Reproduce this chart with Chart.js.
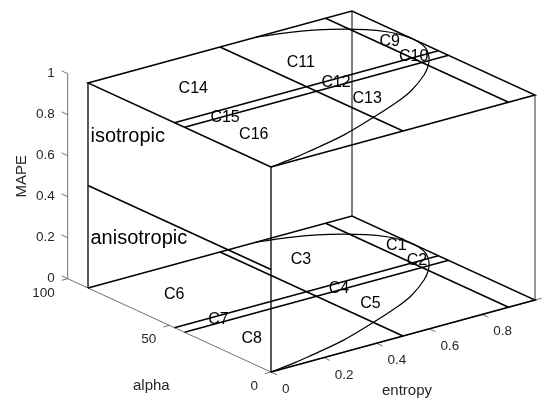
<!DOCTYPE html>
<html>
<head>
<meta charset="utf-8">
<script src="https://cdn.jsdelivr.net/npm/chart.js@4.4.1/dist/chart.umd.min.js"></script>
<style>
html,body{margin:0;padding:0;background:#ffffff;}
#wrap{width:545px;height:398px;position:relative;}
</style>
</head>
<body>
<div id="wrap"><canvas id="c"></canvas></div>
<script>
// ------------------------- DATA -------------------------
const entropyRange = [0, 1];
const alphaRange = [0, 90];
const entropyZoneBounds = [0.5, 0.9];
const alphaZoneBounds = [42.5, 47.5];
const planeMAPE = [0, 1];          // anisotropic plane, isotropic plane
const splitMAPE = 0.5;             // isotropic / anisotropic split on the side face

// feasibility boundary of the entropy / alpha plane
const curveEntropy = [0, 0.10, 0.17, 0.34, 0.51, 0.64, 0.73, 0.84, 0.905, 0.945, 0.97, 0.985, 0.995, 1.0, 0.995, 0.978, 0.936, 0.851, 0.775, 0.706, 0.631];
const curveAlpha   = [0, 1.8, 3.5, 8.2, 15, 20.8, 25.7, 33.8, 40, 45, 49, 52, 55.4, 60, 64.3, 69.2, 75, 81.8, 85.7, 88.2, 90];

const lowerLabels = ['C1', 'C2', 'C3', 'C4', 'C5', 'C6', 'C7', 'C8'];
const lowerLabelEntropy = [0.96, 0.93, 0.66, 0.60, 0.60, 0.18, 0.155, 0.135];
const lowerLabelAlpha   = [63, 49, 71, 44.5, 29, 71, 46, 27];

const upperLabels = ['C9', 'C10', 'C11', 'C12', 'C13', 'C14', 'C15', 'C16'];
const upperLabelEntropy = [0.94, 0.92, 0.62, 0.60, 0.59, 0.23, 0.155, 0.135];
const upperLabelAlpha   = [63.7, 49.3, 65.8, 45.9, 29.3, 68.1, 42.7, 26];

const faceLabels = ['isotropic', 'anisotropic'];
const faceLabelMAPE = [0.75, 0.25];

const entropyTicks = [0, 0.2, 0.4, 0.6, 0.8];
const entropyTickLabels = ['0', '0.2', '0.4', '0.6', '0.8'];
const alphaTicks = [0, 50, 100];
const alphaTickLabels = ['0', '50', '100'];
const mapeTicks = [0, 0.2, 0.4, 0.6, 0.8, 1];
const mapeTickLabels = ['0', '0.2', '0.4', '0.6', '0.8', '1'];
const entropyAxisMax = 1.025;
const alphaAxisMax = 100;
const mapeAxisMax = 1;

// ------------------------- VIEW (orthographic projection) -------------------------
const VIEW = {
  origin: [271, 372],
  entropy: [264, -72],          // per unit entropy
  alpha: [-183 / 90, -84 / 90], // per degree alpha
  mape: [0, -205]               // per unit MAPE
};
function proj(h, a, z) {
  return {
    x: VIEW.origin[0] + h * VIEW.entropy[0] + a * VIEW.alpha[0] + z * VIEW.mape[0],
    y: VIEW.origin[1] + h * VIEW.entropy[1] + a * VIEW.alpha[1] + z * VIEW.mape[1]
  };
}

const datasets = [];
function poly(pts, color, width, tension) {
  datasets.push({
    data: pts.map(p => proj(p[0], p[1], p[2])),
    showLine: true,
    borderColor: color,
    borderWidth: width,
    pointRadius: 0,
    tension: tension || 0,
    fill: false
  });
}
const BLACK = '#000000';
const AXIS = '#4d4d4d';
const [h0, h1] = entropyRange;
const [a0, a1] = alphaRange;

// planes
planeMAPE.forEach((z, i) => {
  if (i === 0) {
    poly([[h0, a0, z], [h1, a0, z], [h1, a1, z], [h0, a1, z]], BLACK, 1.5);
  } else {
    poly([[h0, a0, z], [h1, a0, z], [h1, a1, z], [h0, a1, z], [h0, a0, z]], BLACK, 1.5);
  }
  entropyZoneBounds.forEach(h => poly([[h, a0, z], [h, a1, z]], BLACK, 1.5));
  alphaZoneBounds.forEach(a => poly([[h0, a, z], [h1, a, z]], BLACK, 1.5));
  poly(curveEntropy.map((h, k) => [h, curveAlpha[k], z]), BLACK, 1.2, 0.35);
});
// side face and verticals
poly([[h0, a1, planeMAPE[0]], [h0, a1, planeMAPE[1]]], BLACK, 1.3);
poly([[h0, a0, planeMAPE[0]], [h0, a0, planeMAPE[1]]], BLACK, 1.3);
poly([[h0, a1, splitMAPE], [h0, a0, splitMAPE]], BLACK, 1.5);
poly([[h1, a1, planeMAPE[0]], [h1, a1, planeMAPE[1]]], BLACK, 1);
poly([[h1, a0, planeMAPE[0]], [h1, a0, planeMAPE[1]]], '#333333', 1);

// axes
poly([[0, alphaAxisMax, 0], [0, alphaAxisMax, mapeAxisMax]], AXIS, 0.8);
poly([[0, 0, 0], [0, alphaAxisMax, 0]], AXIS, 0.8);
poly([[0, 0, 0], [entropyAxisMax, 0, 0]], AXIS, 0.8);
mapeTicks.forEach(t => poly([[0, alphaAxisMax, t], [0, alphaAxisMax + 3, t]], AXIS, 0.8));
alphaTicks.forEach(t => poly([[0, t, 0], [-0.023, t, 0]], AXIS, 0.8));
entropyTicks.forEach(t => poly([[t, 0, 0], [t, -3, 0]], AXIS, 0.8));

// ------------------------- TEXT PLUGIN -------------------------
const FONT = "'Liberation Sans', Arial, Helvetica, sans-serif";
const textPlugin = {
  id: 'text3d',
  afterDatasetsDraw(chart) {
    const ctx = chart.ctx;
    const sx = chart.scales.x, sy = chart.scales.y;
    const P = (h, a, z) => { const p = proj(h, a, z); return [sx.getPixelForValue(p.x), sy.getPixelForValue(p.y)]; };
    ctx.save();
    ctx.textBaseline = 'alphabetic';
    // zone labels
    ctx.fillStyle = '#000000';
    ctx.font = '16px ' + FONT;
    ctx.textAlign = 'center';
    lowerLabels.forEach((t, i) => {
      const [x, y] = P(lowerLabelEntropy[i], lowerLabelAlpha[i], planeMAPE[0]);
      ctx.fillText(t, x, y + 5.8);
    });
    upperLabels.forEach((t, i) => {
      const [x, y] = P(upperLabelEntropy[i], upperLabelAlpha[i], planeMAPE[1]);
      ctx.fillText(t, x, y + 5.8);
    });
    // face labels
    ctx.font = '20px ' + FONT;
    ctx.textAlign = 'left';
    faceLabels.forEach((t, i) => {
      const [x, y] = P(0, a1, faceLabelMAPE[i]);
      ctx.fillText(t, x + 2.5, y + 7.7);
    });
    // tick labels
    ctx.fillStyle = '#262626';
    ctx.font = '13.5px ' + FONT;
    ctx.textAlign = 'right';
    mapeTicks.forEach((t, i) => {
      const [x, y] = P(0, alphaAxisMax, t);
      ctx.fillText(mapeTickLabels[i], x - 13, y - 2 + 4.9);
    });
    alphaTicks.forEach((t, i) => {
      const [x, y] = P(0, t, 0);
      ctx.fillText(alphaTickLabels[i], x - 13, y + 13 + 4.9);
    });
    ctx.textAlign = 'left';
    entropyTicks.forEach((t, i) => {
      const [x, y] = P(t, 0, 0);
      ctx.fillText(entropyTickLabels[i], x + 11, y + 16 + 4.9);
    });
    // axis titles
    ctx.font = '15px ' + FONT;
    ctx.textAlign = 'center';
    ctx.textBaseline = 'middle';
    {
      const [x, y] = P(0, 50, 0);
      ctx.fillText('alpha', x - 18, y + 61);
    }
    {
      const [x, y] = P(0.5, 0, 0);
      ctx.fillText('entropy', x + 4, y + 55);
    }
    {
      const [x, y] = P(0, alphaAxisMax, mapeAxisMax / 2);
      ctx.translate(x - 46, y);
      ctx.rotate(-Math.PI / 2);
      ctx.fillText('MAPE', 0, 0);
    }
    ctx.restore();
  }
};

new Chart(document.getElementById('c'), {
  type: 'scatter',
  data: { datasets },
  options: {
    responsive: true,
    maintainAspectRatio: false,
    animation: false,
    events: [],
    layout: { padding: 0 },
    plugins: { legend: { display: false }, tooltip: { enabled: false }, title: { display: false } },
    scales: {
      x: { type: 'linear', min: 0, max: 545, display: false },
      y: { type: 'linear', min: 0, max: 398, reverse: true, display: false }
    }
  },
  plugins: [textPlugin]
});
</script>
</body>
</html>
